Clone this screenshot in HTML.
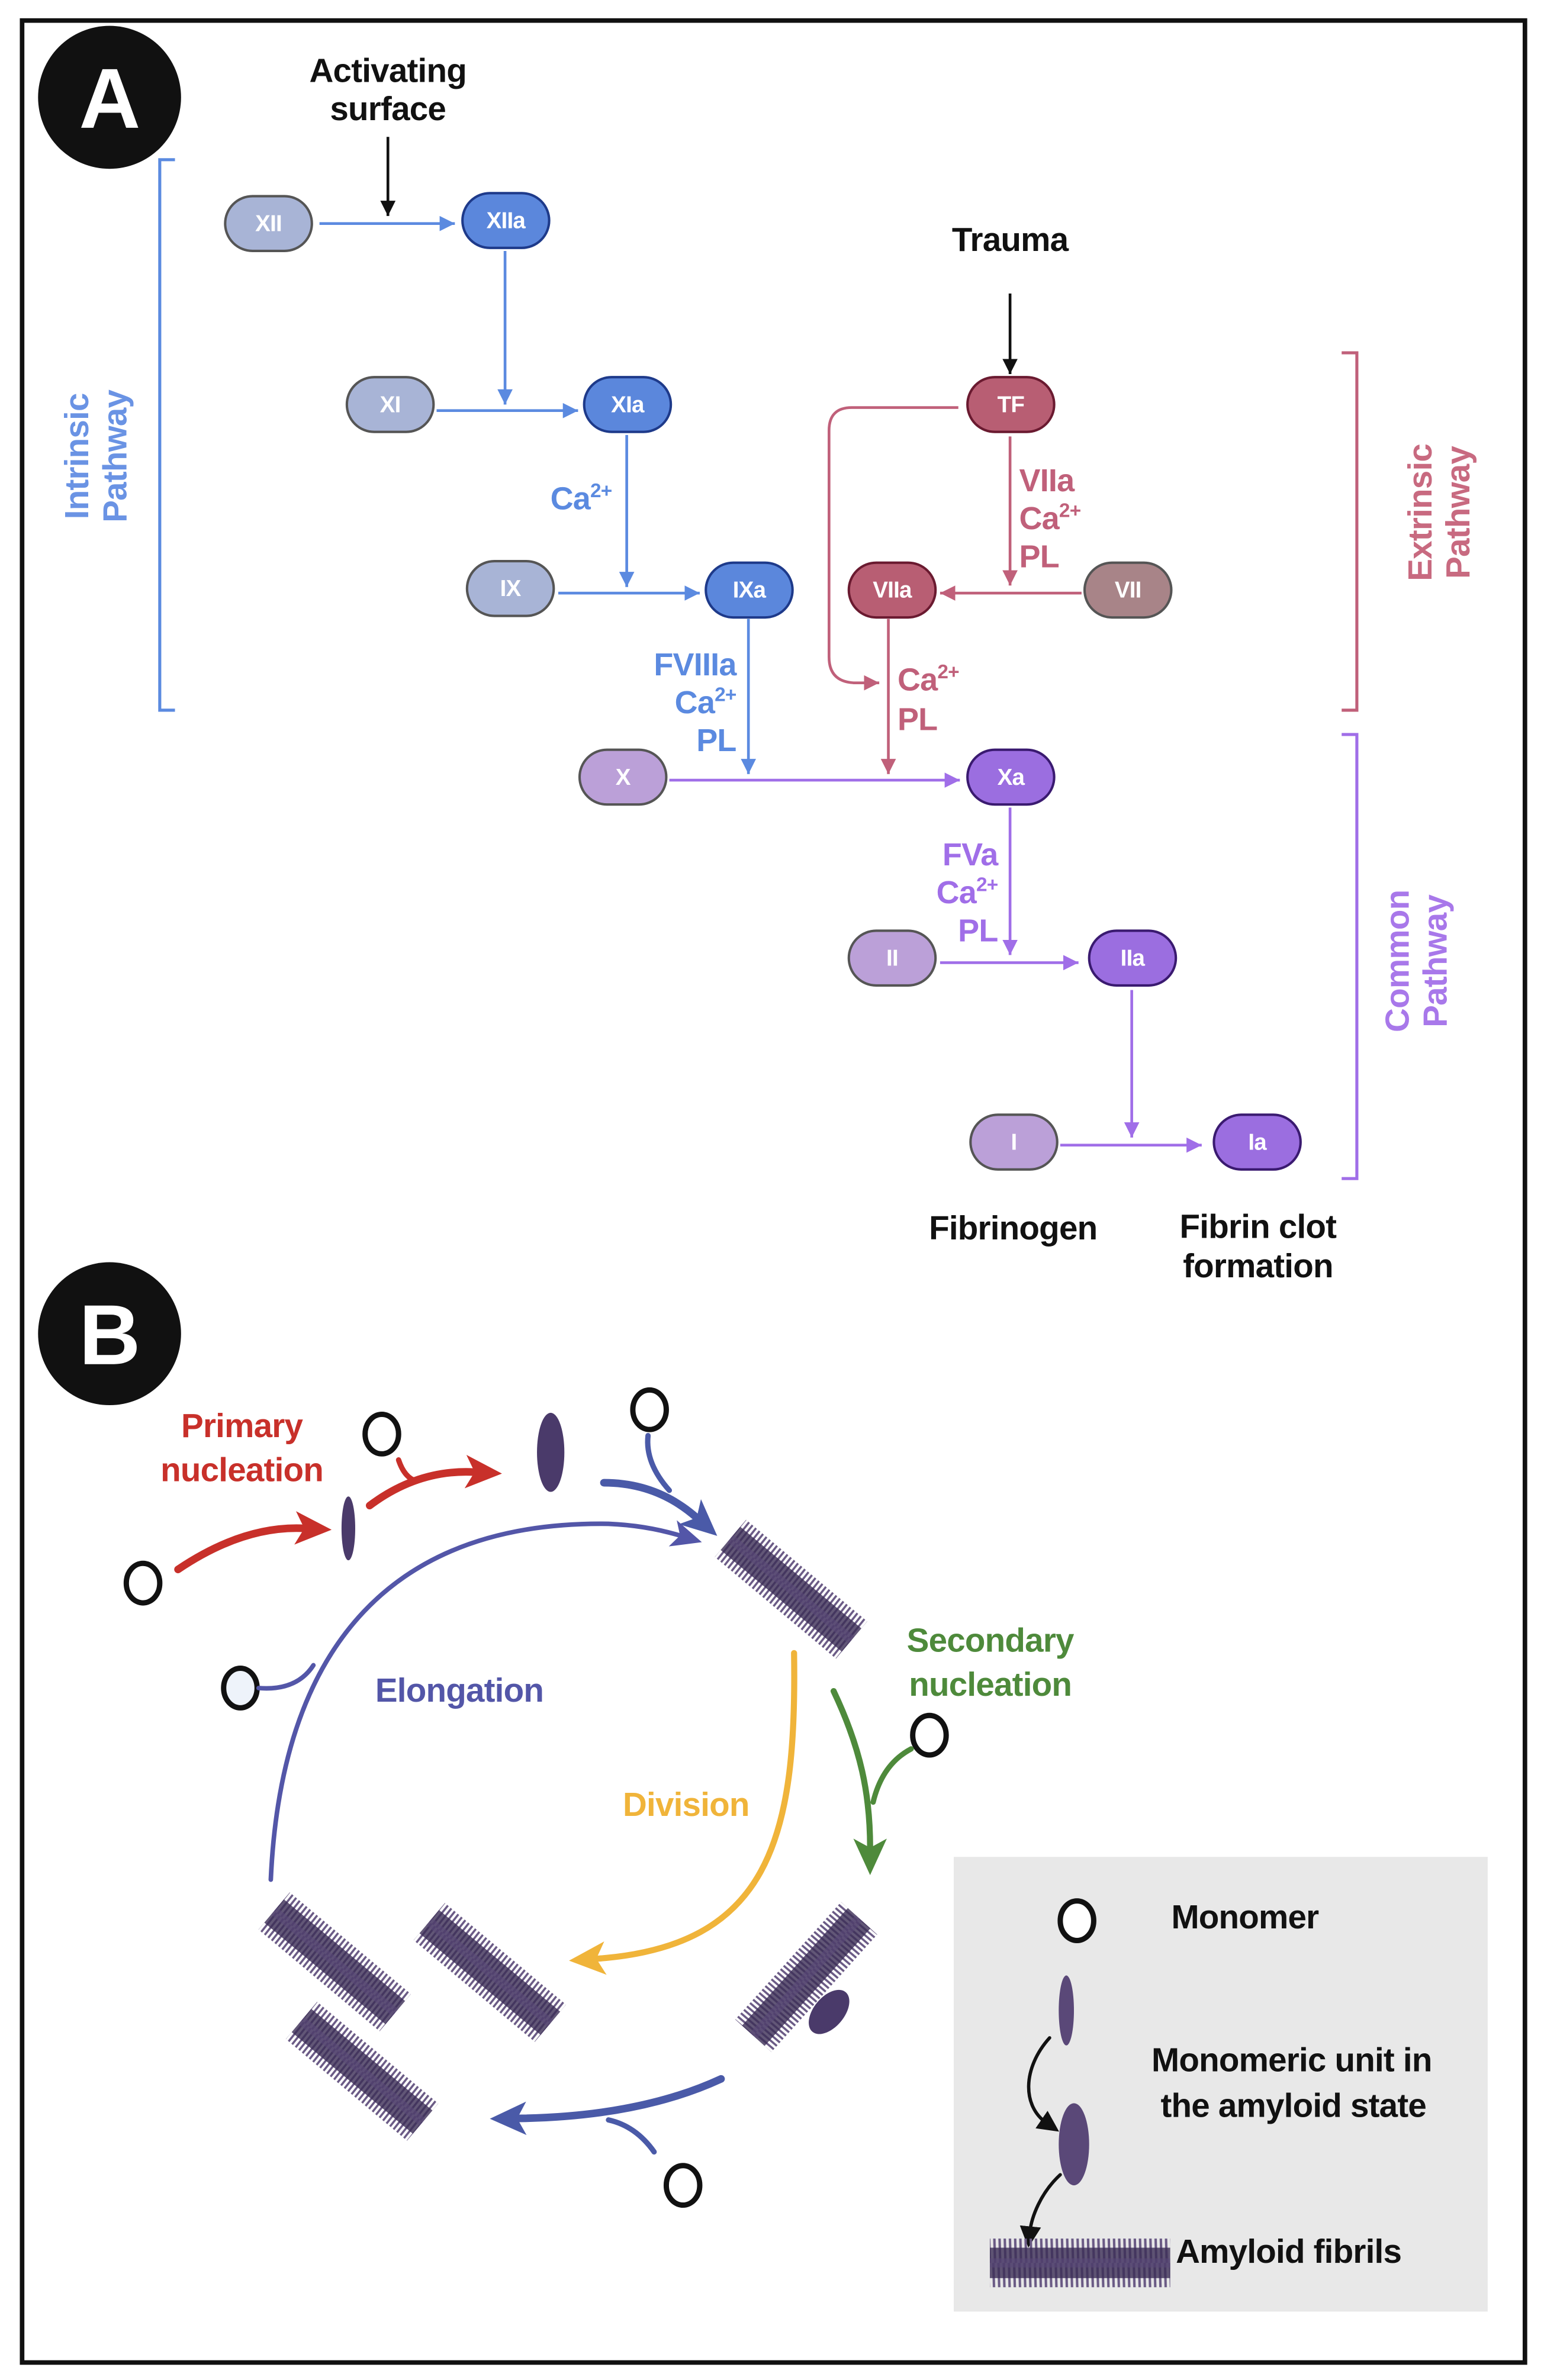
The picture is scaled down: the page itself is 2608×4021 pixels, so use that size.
<!DOCTYPE html>
<html><head><meta charset="utf-8"><style>
html,body{margin:0;padding:0;background:#fff;}
svg{display:block;}
text{font-family:"Liberation Sans",sans-serif;font-weight:bold;letter-spacing:-0.3px;}
</style></head><body>
<svg width="2608" height="4021" viewBox="0 0 1015 1565" xmlns="http://www.w3.org/2000/svg">
<defs>
<marker id="mb" markerUnits="userSpaceOnUse" markerWidth="12" markerHeight="12" refX="10" refY="5" orient="auto"><path d="M0,0 L10,5 L0,10 z" fill="#5b8ae0"/></marker>
<marker id="mp" markerUnits="userSpaceOnUse" markerWidth="12" markerHeight="12" refX="10" refY="5" orient="auto"><path d="M0,0 L10,5 L0,10 z" fill="#a06ee8"/></marker>
<marker id="mr" markerUnits="userSpaceOnUse" markerWidth="12" markerHeight="12" refX="10" refY="5" orient="auto"><path d="M0,0 L10,5 L0,10 z" fill="#c0607a"/></marker>
<marker id="mk" markerUnits="userSpaceOnUse" markerWidth="12" markerHeight="12" refX="10" refY="5" orient="auto"><path d="M0,0 L10,5 L0,10 z" fill="#111"/></marker>
<marker id="bR" markerUnits="userSpaceOnUse" markerWidth="26" markerHeight="26" refX="6" refY="11" orient="auto"><path d="M0,0 L24,11 L0,22 L6,11 z" fill="#c8302a"/></marker>
<marker id="bB" markerUnits="userSpaceOnUse" markerWidth="26" markerHeight="26" refX="6" refY="11" orient="auto"><path d="M0,0 L24,11 L0,22 L6,11 z" fill="#4a5aa8"/></marker>
<marker id="bE" markerUnits="userSpaceOnUse" markerWidth="26" markerHeight="26" refX="6" refY="9" orient="auto"><path d="M0,0 L20,9 L0,18 L5,9 z" fill="#5356a8"/></marker>
<marker id="bY" markerUnits="userSpaceOnUse" markerWidth="26" markerHeight="26" refX="6" refY="11" orient="auto"><path d="M0,0 L24,11 L0,22 L6,11 z" fill="#f0b43a"/></marker>
<marker id="bG" markerUnits="userSpaceOnUse" markerWidth="26" markerHeight="26" refX="6" refY="11" orient="auto"><path d="M0,0 L24,11 L0,22 L6,11 z" fill="#4e8a3b"/></marker>
<marker id="bK" markerUnits="userSpaceOnUse" markerWidth="16" markerHeight="16" refX="4" refY="7" orient="auto"><path d="M0,0 L14,7 L0,14 z" fill="#111"/></marker>
<pattern id="hatch" patternUnits="userSpaceOnUse" width="3" height="40"><line x1="1" y1="0" x2="2" y2="40" stroke="#6a5a85" stroke-width="1.4"/></pattern>
<g id="fib">
<rect x="-52" y="-16" width="104" height="32" fill="url(#hatch)"/>
<rect x="-52" y="-10" width="104" height="20" fill="#3b2d55" opacity="0.8"/>
<rect x="-52" y="-3" width="104" height="6" fill="#5a4a78" opacity="0.6"/>
</g>
</defs>
<rect x="0" y="0" width="1015" height="1565" fill="#fff"/>
<rect x="14.5" y="13.5" width="988" height="1540" fill="none" stroke="#111" stroke-width="3"/>

<circle cx="72" cy="64" r="47" fill="#111"/>
<text x="72" y="84" font-size="56" fill="#fff" text-anchor="middle">A</text>
<circle cx="72" cy="877" r="47" fill="#111"/>
<text x="72" y="897" font-size="56" fill="#fff" text-anchor="middle">B</text>

<g font-size="22" fill="#111" text-anchor="middle">
<text x="255" y="54">Activating</text>
<text x="255" y="79">surface</text>
<text x="664" y="165">Trauma</text>
<text x="666" y="815">Fibrinogen</text>
<text x="827" y="814">Fibrin clot</text>
<text x="827" y="840">formation</text>
</g>
<line x1="255" y1="90" x2="255" y2="142" stroke="#111" stroke-width="1.8" marker-end="url(#mk)"/>
<line x1="664" y1="193" x2="664" y2="246" stroke="#111" stroke-width="1.8" marker-end="url(#mk)"/>

<path d="M115,105 H105 V467 H115" fill="none" stroke="#5b8ae0" stroke-width="2"/>
<path d="M882,232 H892 V467 H882" fill="none" stroke="#c0607a" stroke-width="2"/>
<path d="M882,483 H892 V775 H882" fill="none" stroke="#a06ee8" stroke-width="2"/>
<text transform="translate(62,300) rotate(-90)" font-size="22" fill="#6a93e4" text-anchor="middle"><tspan x="0" y="-4">Intrinsic</tspan><tspan x="0" y="21">Pathway</tspan></text>
<text transform="translate(945,337) rotate(-90)" font-size="22" fill="#c86a80" text-anchor="middle"><tspan x="0" y="-4">Extrinsic</tspan><tspan x="0" y="21">Pathway</tspan></text>
<text transform="translate(930,632) rotate(-90)" font-size="22" fill="#a878ea" text-anchor="middle"><tspan x="0" y="-4">Common</tspan><tspan x="0" y="21">Pathway</tspan></text>

<g stroke-width="1.8" fill="none">
<line x1="210" y1="147" x2="299" y2="147" stroke="#5b8ae0" marker-end="url(#mb)"/>
<line x1="332" y1="165" x2="332" y2="266" stroke="#5b8ae0" marker-end="url(#mb)"/>
<line x1="287" y1="270" x2="380" y2="270" stroke="#5b8ae0" marker-end="url(#mb)"/>
<line x1="412" y1="286" x2="412" y2="386" stroke="#5b8ae0" marker-end="url(#mb)"/>
<line x1="367" y1="390" x2="460" y2="390" stroke="#5b8ae0" marker-end="url(#mb)"/>
<line x1="492" y1="407" x2="492" y2="509" stroke="#5b8ae0" marker-end="url(#mb)"/>
<line x1="440" y1="513" x2="631" y2="513" stroke="#a06ee8" marker-end="url(#mp)"/>
<line x1="664" y1="287" x2="664" y2="385" stroke="#c0607a" marker-end="url(#mr)"/>
<line x1="711" y1="390" x2="618" y2="390" stroke="#c0607a" marker-end="url(#mr)"/>
<line x1="584" y1="407" x2="584" y2="509" stroke="#c0607a" marker-end="url(#mr)"/>
<path d="M630,268 H560 Q545,268 545,283 V432 Q545,448 561,449 H578" stroke="#c0607a" marker-end="url(#mr)"/>
<line x1="664" y1="531" x2="664" y2="628" stroke="#a06ee8" marker-end="url(#mp)"/>
<line x1="618" y1="633" x2="709" y2="633" stroke="#a06ee8" marker-end="url(#mp)"/>
<line x1="744" y1="651" x2="744" y2="748" stroke="#a06ee8" marker-end="url(#mp)"/>
<line x1="697" y1="753" x2="790" y2="753" stroke="#a06ee8" marker-end="url(#mp)"/>
</g>

<g font-size="21">
<text x="382" y="335" fill="#5b8ae0" text-anchor="middle">Ca<tspan font-size="13" dy="-8">2+</tspan></text>
<g fill="#5b8ae0" text-anchor="end">
<text x="484" y="444">FVIIIa</text>
<text x="484" y="469">Ca<tspan font-size="13" dy="-8">2+</tspan></text>
<text x="484" y="494">PL</text>
</g>
<g fill="#c0607a">
<text x="670" y="323">VIIa</text>
<text x="670" y="348">Ca<tspan font-size="13" dy="-8">2+</tspan></text>
<text x="670" y="373">PL</text>
<text x="590" y="454">Ca<tspan font-size="13" dy="-8">2+</tspan></text>
<text x="590" y="480">PL</text>
</g>
<g fill="#a06ee8" text-anchor="end">
<text x="656" y="569">FVa</text>
<text x="656" y="594">Ca<tspan font-size="13" dy="-8">2+</tspan></text>
<text x="656" y="619">PL</text>
</g>
</g>

<g stroke-width="1.6" font-size="15">
<g><rect x="148" y="129" width="57" height="36" rx="18" fill="#a8b4d6" stroke="#555"/><text x="176.5" y="152" fill="#fff" text-anchor="middle">XII</text></g>
<g><rect x="304" y="127" width="57" height="36" rx="18" fill="#5b87dc" stroke="#1e3a8a"/><text x="332.5" y="150" fill="#fff" text-anchor="middle">XIIa</text></g>
<g><rect x="228" y="248" width="57" height="36" rx="18" fill="#a8b4d6" stroke="#555"/><text x="256.5" y="271" fill="#fff" text-anchor="middle">XI</text></g>
<g><rect x="384" y="248" width="57" height="36" rx="18" fill="#5b87dc" stroke="#1e3a8a"/><text x="412.5" y="271" fill="#fff" text-anchor="middle">XIa</text></g>
<g><rect x="307" y="369" width="57" height="36" rx="18" fill="#a8b4d6" stroke="#555"/><text x="335.5" y="392" fill="#fff" text-anchor="middle">IX</text></g>
<g><rect x="464" y="370" width="57" height="36" rx="18" fill="#5b87dc" stroke="#1e3a8a"/><text x="492.5" y="393" fill="#fff" text-anchor="middle">IXa</text></g>
<g><rect x="381" y="493" width="57" height="36" rx="18" fill="#bba0d8" stroke="#555"/><text x="409.5" y="516" fill="#fff" text-anchor="middle">X</text></g>
<g><rect x="636" y="493" width="57" height="36" rx="18" fill="#9b6ee0" stroke="#3a1a70"/><text x="664.5" y="516" fill="#fff" text-anchor="middle">Xa</text></g>
<g><rect x="636" y="248" width="57" height="36" rx="18" fill="#b85e73" stroke="#6a1a30"/><text x="664.5" y="271" fill="#fff" text-anchor="middle">TF</text></g>
<g><rect x="558" y="370" width="57" height="36" rx="18" fill="#b85e73" stroke="#6a1a30"/><text x="586.5" y="393" fill="#fff" text-anchor="middle">VIIa</text></g>
<g><rect x="713" y="370" width="57" height="36" rx="18" fill="#a88488" stroke="#555"/><text x="741.5" y="393" fill="#fff" text-anchor="middle">VII</text></g>
<g><rect x="558" y="612" width="57" height="36" rx="18" fill="#bba0d8" stroke="#555"/><text x="586.5" y="635" fill="#fff" text-anchor="middle">II</text></g>
<g><rect x="716" y="612" width="57" height="36" rx="18" fill="#9b6ee0" stroke="#3a1a70"/><text x="744.5" y="635" fill="#fff" text-anchor="middle">IIa</text></g>
<g><rect x="638" y="733" width="57" height="36" rx="18" fill="#bba0d8" stroke="#555"/><text x="666.5" y="756" fill="#fff" text-anchor="middle">I</text></g>
<g><rect x="798" y="733" width="57" height="36" rx="18" fill="#9b6ee0" stroke="#3a1a70"/><text x="826.5" y="756" fill="#fff" text-anchor="middle">Ia</text></g>
</g>

<rect x="627" y="1221" width="351" height="299" fill="#e8e8e8"/>
<g font-size="22">
<text x="159" y="945" fill="#c8302a" text-anchor="middle">Primary</text>
<text x="159" y="974" fill="#c8302a" text-anchor="middle">nucleation</text>
<text x="302" y="1119" fill="#5356a8" text-anchor="middle">Elongation</text>
<text x="451" y="1194" fill="#f0b43a" text-anchor="middle">Division</text>
<text x="651" y="1086" fill="#4e8a3b" text-anchor="middle">Secondary</text>
<text x="651" y="1115" fill="#4e8a3b" text-anchor="middle">nucleation</text>
<text x="770" y="1268" fill="#111">Monomer</text>
<text x="757" y="1362" fill="#111">Monomeric unit in</text>
<text x="763" y="1392" fill="#111">the amyloid state</text>
<text x="773" y="1488" fill="#111">Amyloid fibrils</text>
</g>

<g fill="#fff" stroke="#111" stroke-width="3.5">
<ellipse cx="94" cy="1041" rx="11" ry="13"/>
<ellipse cx="251" cy="943" rx="11" ry="13"/>
<ellipse cx="427" cy="927" rx="11" ry="13"/>
<ellipse cx="158" cy="1110" rx="11" ry="13" fill="#eef3fa"/>
<ellipse cx="611" cy="1141" rx="11" ry="13"/>
<ellipse cx="449" cy="1437" rx="11" ry="13"/>
<ellipse cx="708" cy="1263" rx="11" ry="13"/>
</g>

<ellipse cx="229" cy="1005" rx="4.5" ry="21" fill="#4a3a6a"/>
<ellipse cx="362" cy="955" rx="9" ry="26" fill="#4a3a6a"/>
<ellipse cx="701" cy="1322" rx="5" ry="23" fill="#5a4878"/>
<ellipse cx="706" cy="1410" rx="10" ry="27" fill="#5a4878"/>

<g fill="none" stroke-linecap="round">
<path d="M117,1032 Q160,1003 200,1005" stroke="#c8302a" stroke-width="5" marker-end="url(#bR)"/>
<path d="M243,990 Q275,966 312,968" stroke="#c8302a" stroke-width="5" marker-end="url(#bR)"/>
<path d="M262,960 Q266,972 274,974" stroke="#c8302a" stroke-width="3.5"/>
<path d="M397,975 Q432,975 458,998" stroke="#4a5aa8" stroke-width="5" marker-end="url(#bB)"/>
<path d="M426,944 Q424,962 440,980" stroke="#4a5aa8" stroke-width="3.5"/>
<path d="M178,1236 C185,1080 260,1000 400,1002 Q425,1003 448,1010" stroke="#5356a8" stroke-width="3" marker-end="url(#bE)"/>
<path d="M170,1110 Q195,1112 206,1095" stroke="#5356a8" stroke-width="3"/>
<path d="M522,1087 C524,1210 505,1280 392,1288" stroke="#f0b43a" stroke-width="4" marker-end="url(#bY)"/>
<path d="M548,1112 C566,1150 572,1180 572,1215" stroke="#4e8a3b" stroke-width="4" marker-end="url(#bG)"/>
<path d="M599,1150 Q580,1160 574,1185" stroke="#4e8a3b" stroke-width="3.5"/>
<path d="M474,1367 Q420,1392 340,1393" stroke="#4a5aa8" stroke-width="5" marker-end="url(#bB)"/>
<path d="M430,1415 Q418,1398 400,1394" stroke="#4a5aa8" stroke-width="3.5"/>
<path d="M690,1340 C672,1360 672,1385 688,1396" stroke="#111" stroke-width="2.2" marker-end="url(#bK)"/>
<path d="M697,1430 C684,1442 678,1458 677,1468" stroke="#111" stroke-width="2.2" marker-end="url(#bK)"/>
</g>

<use href="#fib" transform="translate(520,1045) rotate(40)"/>
<use href="#fib" transform="translate(220,1290) rotate(40)"/>
<use href="#fib" transform="translate(322,1297) rotate(40)"/>
<use href="#fib" transform="translate(238,1362) rotate(40)"/>
<use href="#fib" transform="translate(530,1300) rotate(-48)"/>
<ellipse cx="545" cy="1323" rx="10" ry="17" transform="rotate(40 545 1323)" fill="#4a3a6a"/>
<use href="#fib" transform="translate(710,1488) scale(1.14,1)"/>
</svg>
</body></html>
